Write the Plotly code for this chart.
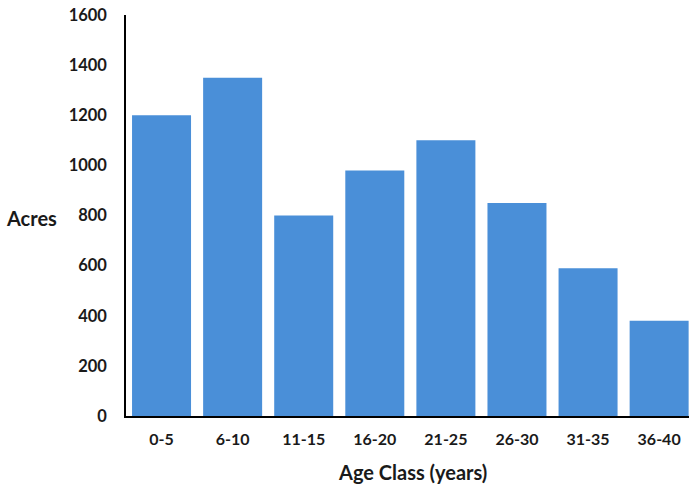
import plotly.graph_objects as go

categories = ["0-5", "6-10", "11-15", "16-20", "21-25", "26-30", "31-35", "36-40"]
acres = [1200, 1350, 800, 980, 1100, 850, 590, 380]
y_ticks = [0, 200, 400, 600, 800, 1000, 1200, 1400, 1600]

FONT = "Lato, 'Open Sans', sans-serif"

fig = go.Figure(go.Bar(
    x=categories, y=acres,
    marker=dict(color="#4a8fd8", line=dict(width=0)),
))

fig.update_layout(
    width=689, height=485,
    margin=dict(l=126, r=0, t=15, b=69),
    paper_bgcolor="white", plot_bgcolor="white",
    bargap=0.17,
    showlegend=False,
    font=dict(family=FONT, size=16, color="#1a1a1a"),
    xaxis=dict(
        range=[-0.5, 7.42],
        showline=True, linecolor="black", linewidth=1.5,
        ticks="outside", ticklen=8, tickcolor="rgba(0,0,0,0)",
        tickfont=dict(family=FONT, size=16, color="#1a1a1a", weight="bold"),
        showgrid=False, zeroline=False,
    ),
    yaxis=dict(
        range=[0, 1600],
        tickvals=y_ticks,
        showline=True, linecolor="black", linewidth=1.5,
        ticks="outside", ticklen=14, tickcolor="rgba(0,0,0,0)",
        tickfont=dict(family=FONT, size=16.5, color="#1a1a1a", weight="bold"),
        ticklabeloverflow="allow",
        showgrid=False, zeroline=False,
    ),
    annotations=[
        dict(text="<b>Acres</b>", xref="paper", yref="paper", x=-0.217, y=0.495,
             xanchor="left", yanchor="middle", showarrow=False,
             font=dict(family=FONT, size=20, color="#1a1a1a")),
        dict(text="<b>Age Class (years)</b>", xref="paper", yref="paper", x=0.508, y=-0.14,
             xanchor="center", yanchor="middle", showarrow=False,
             font=dict(family=FONT, size=20, color="#1a1a1a")),
    ],
)

fig.write_html(
    "out.html",
    config={"displayModeBar": False},
    post_script="document.body.style.margin='0';document.body.style.overflow='hidden';",
)
